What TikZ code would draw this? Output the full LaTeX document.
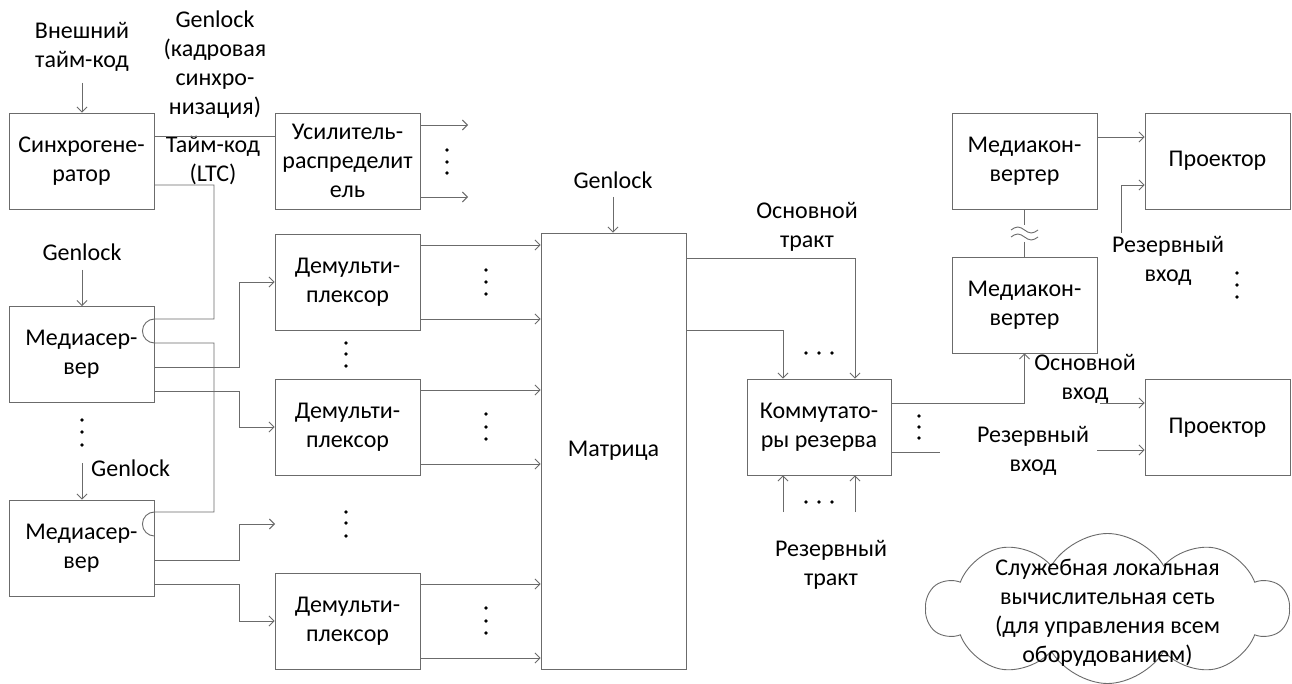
\documentclass[tikz,border=0pt]{standalone}
\usepackage{fontspec}
\setmainfont{Carlito}
\usetikzlibrary{arrows.meta,shapes.symbols}
\definecolor{lc}{gray}{0.42}
\newcommand\dfont{\fontsize{24}{29}\selectfont}
\tikzset{
  ln/.style={draw=lc, line width=0.9pt},
  arr/.style={ln, -{Straight Barb[length=5pt,width=10pt]}},
  blk/.style={draw=lc, line width=0.9pt, minimum width=145pt, minimum height=96pt, inner sep=0pt, align=center, font=\dfont},
  lbl/.style={align=center, inner sep=0pt, font=\dfont},
}
\newcommand\vd[2]{\fill[black] (#1,#2) circle (1.9pt);}
\begin{document}
\begin{tikzpicture}[x=1pt,y=-1pt]
\path[use as bounding box, fill=white] (0,0) rectangle (1292,684);
% boxes
\node[blk] (sg) at (81.5,161) {Синхрогене-\\ратор};
\node[blk] (ud) at (347.5,161) {Усилитель-\\распределит\\ель};
\node[blk] (ms1) at (81.5,354.5) {Медиасер-\\вер};
\node[blk] (ms2) at (81.5,548) {Медиасер-\\вер};
\node[blk] (dm1) at (347.5,282) {Демульти-\\плексор};
\node[blk] (dm2) at (347.5,427) {Демульти-\\плексор};
\node[blk] (dm3) at (347.5,621) {Демульти-\\плексор};
\node[blk, minimum height=436pt] (mx) at (613.5,451) {Матрица};
\node[blk, minimum width=144pt] (km) at (819,427) {Коммутато-\\ры резерва};
\node[blk] (mc1) at (1024.5,161) {Медиакон-\\вертер};
\node[blk] (mc2) at (1024.5,305) {Медиакон-\\вертер};
\node[blk] (pr1) at (1217.5,161) {Проектор};
\node[blk] (pr2) at (1217.5,427.5) {Проектор};
% labels
\node[lbl] (ext) at (82,47) {Внешний\\тайм-код};
\node[lbl] (gl0) at (215,65) {Genlock\\(кадровая\\синхро-\\низация)};
\node[lbl] (ltc) at (213,161) {Тайм-код\\(LTC)};
\node[lbl] (g1) at (82,252) {Genlock};
\node[lbl, anchor=west] (g2) at (91,468) {Genlock};
\node[lbl] (gm) at (613,180) {Genlock};
\node[lbl] (ot) at (807,227) {Основной\\тракт};
\node[lbl] (rt) at (831,565) {Резервный\\тракт};
\node[lbl] (ov) at (1085,379) {Основной\\вход};
\node[lbl] (rv2) at (1033,451) {Резервный\\вход};
\node[lbl] (rv1) at (1168,261) {Резервный\\вход};
\node[cloud, draw=lc, line width=0.9pt, cloud puffs=10, cloud puff arc=120, aspect=2.5, minimum width=362pt, minimum height=150pt, inner sep=0pt] (net) at (1107.5,608.5) {};
\node[lbl] (nett) at ([yshift=-4pt]net.center) {Служебная локальная\\вычислительная сеть\\(для управления всем\\оборудованием)};
% coordinates
\coordinate (udo1) at (468,125);
\coordinate (udo2) at (468,197);
\coordinate (ms2x) at (275,524);
\coordinate (ovs) at (1100,403);
\coordinate (kmo2) at (940,452);
\coordinate (rvs2) at (1097,450);
\coordinate (rvs1) at (1121,233);
\coordinate (rts1) at (783,512);
\coordinate (rts2) at (855,512);
\coordinate (g1s) at (82,270);
\coordinate (g2s) at (82,463);
\coordinate (gms) at (613,197);
\coordinate (exts) at (82,83);
% top
\draw[arr] (exts) -- (exts |- sg.north);
\draw[ln] (sg.east |- 0,136) -- (ud.west |- 0,136);
\draw[arr] (ud.east |- udo1) -- (udo1);
\draw[arr] (ud.east |- udo2) -- (udo2);
% timecode line with hops
\draw[ln] (sg.east |- 0,185) -- (214,185) -- (214,319) -- (ms1.east |- 0,319)
  arc[start angle=90, end angle=270, radius=12pt] -- (214,343) -- (214,512) -- (ms2.east |- 0,512)
  arc[start angle=90, end angle=270, radius=12pt];
% genlocks
\draw[arr] (g1s) -- (g1s |- ms1.north);
\draw[arr] (g2s) -- (g2s |- ms2.north);
\draw[arr] (gms) -- (gms |- mx.north);
% media server outputs
\draw[arr] (ms1.east |- 0,367) -- (239,367) -- (239,282) -- (dm1.west |- 0,282);
\draw[arr] (ms1.east |- 0,391) -- (239,391) -- (239,427) -- (dm2.west |- 0,427);
\draw[arr] (ms2.east |- 0,560) -- (239,560) -- (239,524) -- (ms2x);
\draw[arr] (ms2.east |- 0,584) -- (239,584) -- (239,621) -- (dm3.west |- 0,621);
% demux outputs
\draw[arr] (dm1.east |- 0,245) -- (mx.west |- 0,245);
\draw[arr] (dm1.east |- 0,319) -- (mx.west |- 0,319);
\draw[arr] (dm2.east |- 0,390) -- (mx.west |- 0,390);
\draw[arr] (dm2.east |- 0,464) -- (mx.west |- 0,464);
\draw[arr] (dm3.east |- 0,584) -- (mx.west |- 0,584);
\draw[arr] (dm3.east |- 0,658) -- (mx.west |- 0,658);
% matrix outputs
\draw[arr] (mx.east |- 0,258) -- (855,258) -- (855,0 |- km.north);
\draw[arr] (mx.east |- 0,330) -- (783,330) -- (783,0 |- km.north);
\draw[arr] (rts1) -- (rts1 |- km.south);
\draw[arr] (rts2) -- (rts2 |- km.south);
% commutator outputs
\draw[arr] (km.east |- 0,403) -- (1024.5,403) -- (1024.5,0 |- mc2.south);
\draw[ln] (km.east |- kmo2) -- (kmo2);
\draw[arr] (ovs) -- (ovs -| pr2.west);
\draw[arr] (rvs2) -- (rvs2 -| pr2.west);
\draw[arr] (mc1.east |- 0,137) -- (pr1.west |- 0,137);
\draw[arr] (rvs1) -- (1121,185) -- (pr1.west |- 0,185);
% mc link with approx sign
\coordinate (wa) at (1024.5,225);
\coordinate (wb) at (1024.5,242);
\draw[ln] (mc1.south) -- (wa);
\draw[ln] (wb) -- (mc2.south |- mc2.north);
\draw[ln] (1011,230) sin (1017.75,227) cos (1024.5,230) sin (1031.25,233) cos (1038,230);
\draw[ln] (1011,237) sin (1017.75,234) cos (1024.5,237) sin (1031.25,240) cos (1038,237);
% dots
\vd{447}{150}\vd{447}{162}\vd{447}{173}
\vd{486}{270}\vd{486}{282}\vd{486}{294}
\vd{486}{414}\vd{486}{427}\vd{486}{439}
\vd{486}{608}\vd{486}{621}\vd{486}{633}
\vd{346}{343}\vd{346}{354}\vd{346}{366}
\vd{346}{512}\vd{346}{523}\vd{346}{536}
\vd{82}{420}\vd{82}{432}\vd{82}{445}
\vd{806}{353}\vd{819}{353}\vd{832}{353}
\vd{806}{502}\vd{819}{502}\vd{832}{502}
\vd{919}{416}\vd{919}{427}\vd{919}{438}
\vd{1237}{273}\vd{1237}{285}\vd{1237}{297}
\end{tikzpicture}
\end{document}
